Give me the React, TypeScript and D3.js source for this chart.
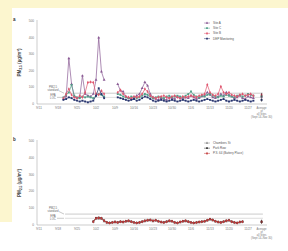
import React from "react";
import * as d3 from "d3";

// days counted from 9/11
const tickDays = [0, 7, 14, 21, 28, 35, 42, 49, 56, 63, 70, 77];
const tickLabels = ["9/11", "9/18", "9/25", "10/2", "10/9", "10/16", "10/23", "10/30", "11/6", "11/13", "11/20", "11/27"];
const yTicks = [0, 100, 200, 300, 400, 500];
const avgDay = 82;
const avgLabel = ["Average", "of", "all Sites", "(Sept 14–Nov 30)"];

const daysA = [
  9, 10, 11, 12, 13, 14, 15, 16, 17, 18, 19, 20, 21, 22, 23, 24,
  29, 30, 31, 32, 33, 34, 35, 36, 37, 38, 39, 40, 41, 42, 43, 44, 45, 46, 47, 48,
  49, 50, 51, 52, 53, 54, 55, 56, 57, 58, 59, 60, 61, 62, 63, 64, 65, 66, 67, 68,
  69, 70, 71, 72, 73, 74, 75, 76, 77, 78, 79,
];
const siteA = [
  30, 45, 275, 120, 45, 35, 40, 170, 60, 50, 45, 60, 145, 400, 195, 145,
  120, 80, 75, 45, 35, 30, 40, 50, 60, 95, 131, 110, 60, 40, 30, 25, 35, 30, 25, 40,
  35, 30, 45, 35, 30, 40, 35, 50, 40, 30, 35, 45, 50, 70, 55, 40, 35, 45, 60, 50,
  70, 55, 45, 35, 40, 50, 35, 30, 45, 40, 35,
];
const siteC = [
  40, 55, 70, 115, 50, 40, 35, 45, 40, 45, 40, 35, 50, 60, 55, 45,
  60, 55, 45, 40, 35, 45, 40, 35, 40, 50, 60, 55, 45, 35, 40, 45, 40, 35, 45, 50,
  40, 45, 50, 45, 40, 50, 60, 75, 55, 45, 40, 50, 45, 55, 60, 50, 45, 40, 50, 45,
  55, 50, 45, 40, 50, 55, 45, 50, 60, 55, 50,
];
const siteB = [
  35, 60, 90, 55, 40, 35, 50, 40, 70, 130, 132, 130, 60, 55, 80, 60,
  70, 85, 60, 45, 40, 35, 45, 40, 45, 60, 90, 75, 50, 40, 35, 40, 45, 50, 40, 35,
  45, 50, 40, 35, 45, 40, 45, 50, 45, 40, 50, 55, 60, 116, 70, 55, 50, 60, 106, 70,
  60, 70, 55, 50, 45, 55, 60, 50, 55, 60, 50,
];
const dep = [
  25, 30, 40, 35, 25, 20, 15, 20, 15, 10, 15, 20, 50, 95, 60, 35,
  40, 35, 30, 25, 20, 25, 30, 20, 25, 35, 45, 40, 30, 20, 15, 20, 25, 20, 15, 20,
  25, 20, 15, 20, 25, 20, 15, 20, 25, 20, 15, 20, 25, 30, 25, 20, 15, 20, 25, 30,
  20, 15, 20, 25, 20, 15, 20, 25, 20, 15, 20,
];
const avgA = [45, 48, 55, 25];
const namesA = ["Site A", "Site C", "Site B", "DEP Monitoring"];
const colorsA = ["#8a5a94", "#4f9f88", "#e0566f", "#27346e"];

const daysB = [
  20, 21, 22, 23, 24, 25, 26, 27, 28, 29, 30, 31, 32, 33, 34, 35, 36, 37, 38, 39,
  40, 41, 42, 43, 44, 45, 46, 47, 48, 49, 50, 51, 52, 53, 54, 55, 56, 57, 58, 59,
  60, 61, 62, 63, 64, 65, 66, 67, 68, 69, 70, 71, 72, 73, 74, 75,
];
const battery = [
  20, 40, 42, 40, 25, 15, 12, 15, 18, 15, 20, 18, 22, 25, 20, 15, 12, 15, 20, 25,
  28, 30, 25, 28, 22, 18, 15, 20, 25, 22, 15, 12, 18, 22, 25, 20, 15, 12, 15, 18,
  20, 22, 28, 35, 30, 22, 18, 15, 20, 25, 28, 20, 15, 12, 18, 20,
];
const chambers = [
  18, 36, 38, 35, 22, 14, 12, 14, 16, 14, 18, 16, 20, 22, 18, 14, 12, 14, 18, 22,
  25, 27, 22, 25, 20, 16, 14, 18, 22, 20, 14, 12, 16, 20, 22, 18, 14, 12, 14, 16,
  18, 20, 25, 31, 27, 20, 16, 14, 18, 22, 25, 18, 14, 12, 16, 18,
];
const parkRow = [
  22, 42, 44, 42, 27, 16, 13, 16, 19, 16, 21, 19, 23, 26, 21, 16, 13, 16, 21, 26,
  29, 31, 26, 29, 23, 19, 16, 21, 26, 23, 16, 13, 19, 23, 26, 21, 16, 13, 16, 19,
  21, 23, 29, 36, 31, 23, 19, 16, 21, 26, 29, 21, 16, 13, 19, 21,
];
const avgB = [18, 20, 19];
const namesB = ["Chambers St", "Park Row", "P.S. 64 (Battery Place)"];
const colorsB = ["#8a8a8a", "#333333", "#c23a3a"];

const standard = 65;
const loc = 40;

const symbols = [d3.symbolTriangle, d3.symbolSquare, d3.symbolDiamond, d3.symbolSquare];
const font = "Liberation Sans, Arial, sans-serif";

type Series = { name: string; color: string; values: number[] };

function Panel({ letter, top, bottom, days, series, avg }: {
  letter: string; top: number; bottom: number; days: number[]; series: Series[]; avg: number[];
}) {
  const x = d3.scaleLinear().domain([0, 77]).range([39, 248]);
  const y = d3.scaleLinear().domain([0, 500]).range([bottom, top]);
  const line = d3.line<[number, number]>().x((d) => x(d[0])).y((d) => y(d[1]));
  const lineEnd = x(82.5);

  // split each series where there is a gap in the days
  const toSegments = (values: number[]) => {
    const segs: [number, number][][] = [];
    values.forEach((v, i) => {
      if (i === 0 || days[i] - days[i - 1] > 2) segs.push([]);
      segs[segs.length - 1].push([days[i], v]);
    });
    return segs;
  };

  return (
    <g>
      <text x={13} y={top} fontSize={4.5} fontWeight="bold" fill="#333" fontFamily={font}>{letter}</text>
      <line x1={37} x2={37} y1={top - 1} y2={bottom} stroke="#999" strokeWidth={0.5} />
      <line x1={37} x2={x(84)} y1={bottom} y2={bottom} stroke="#999" strokeWidth={0.5} />
      {yTicks.map((t) => (
        <text key={t} x={34} y={y(t) + 1} fontSize={3.2} textAnchor="end" fill="#777" fontFamily={font}>{t}</text>
      ))}
      {tickDays.map((d, i) => (
        <text key={d} x={x(d)} y={bottom + 4.5} fontSize={3.2} textAnchor="middle" fill="#777" fontFamily={font}>{tickLabels[i]}</text>
      ))}
      {avgLabel.map((s, i) => (
        <text key={i} x={x(avgDay)} y={bottom + 4.5 + i * 3} fontSize={2.7} textAnchor="middle" fill="#777" fontFamily={font}>{s}</text>
      ))}
      <text transform={`translate(21,${(top + bottom) / 2}) rotate(-90)`} fontSize={4.6} fontWeight="bold" textAnchor="middle" fill="#444" fontFamily={font}>
        PM<tspan fontSize={3.2} dy={1}>2.5</tspan><tspan dy={-1}> (µg/m³)</tspan>
      </text>
      {/* reference lines */}
      <line x1={x(9.6)} x2={lineEnd} y1={y(standard)} y2={y(standard)} stroke="#aaa" strokeWidth={0.6} />
      <line x1={x(9.6)} x2={lineEnd} y1={y(loc)} y2={y(loc)} stroke="#bbb" strokeWidth={0.5} />
      <text x={53} y={y(standard) - 5} fontSize={2.8} textAnchor="middle" fill="#666" fontFamily={font}>PM2.5</text>
      <text x={53} y={y(standard) - 2} fontSize={2.8} textAnchor="middle" fill="#666" fontFamily={font}>standard</text>
      <line x1={59} x2={64} y1={y(standard) - 2.5} y2={y(standard)} stroke="#777" strokeWidth={0.4} />
      <text x={53} y={y(loc) - 1.5} fontSize={2.8} textAnchor="middle" fill="#666" fontFamily={font}>EPA</text>
      <text x={53} y={y(loc) + 1.5} fontSize={2.8} textAnchor="middle" fill="#666" fontFamily={font}>LOC</text>
      <line x1={57} x2={64} y1={y(loc)} y2={y(loc)} stroke="#777" strokeWidth={0.4} />
      {series.map((s, k) => {
        const sym = d3.symbol().type(symbols[k]).size(3.5);
        return (
          <g key={s.name}>
            {toSegments(s.values).map((seg, j) => (
              <path key={j} d={line(seg) || ""} fill="none" stroke={s.color} strokeWidth={0.7} />
            ))}
            {s.values.map((v, i) => (
              <path key={i} d={sym() || ""} transform={`translate(${x(days[i])},${y(v)})`} fill={s.color} />
            ))}
          </g>
        );
      })}
      {/* averages */}
      {avg.map((v, k) => (
        <path key={k} d={d3.symbol().type(symbols[k]).size(4)() || ""} transform={`translate(${x(avgDay)},${y(v)})`} fill={series[k].color} />
      ))}
      <line x1={x(avgDay)} x2={x(avgDay)} y1={y(d3.max(avg)! + 12)} y2={y(d3.min(avg)! - 12)} stroke="#222" strokeWidth={0.5} />
      {/* legend */}
      {series.map((s, k) => (
        <g key={s.name} transform={`translate(204,${top + 2 + k * 5.2})`}>
          <line x1={0} x2={6} y1={0} y2={0} stroke={s.color} strokeWidth={0.5} />
          <path d={d3.symbol().type(symbols[k]).size(3)() || ""} transform="translate(3,0)" fill={s.color} />
          <text x={9} y={1} fontSize={3} fill="#555" fontFamily={font}>{s.name}</text>
        </g>
      ))}
    </g>
  );
}

export default function App() {
  const seriesA: Series[] = [siteA, siteC, siteB, dep].map((v, i) => ({ name: namesA[i], color: colorsA[i], values: v }));
  const seriesB: Series[] = [chambers, parkRow, battery].map((v, i) => ({ name: namesB[i], color: colorsB[i], values: v }));
  return (
    <svg width={288} height={251} style={{ position: "absolute", left: 0, top: 0 }}>
      <rect x={0} y={0} width={288} height={251} fill="#fcf6cf" />
      <rect x={12} y={8} width={276} height={243} fill="#ffffff" />
      <rect x={0} y={222} width={12} height={29} fill="#ffffff" />
      <Panel letter="a" top={21} bottom={104} days={daysA} series={seriesA} avg={avgA} />
      <Panel letter="b" top={141} bottom={225} days={daysB} series={seriesB} avg={avgB} />
    </svg>
  );
}
